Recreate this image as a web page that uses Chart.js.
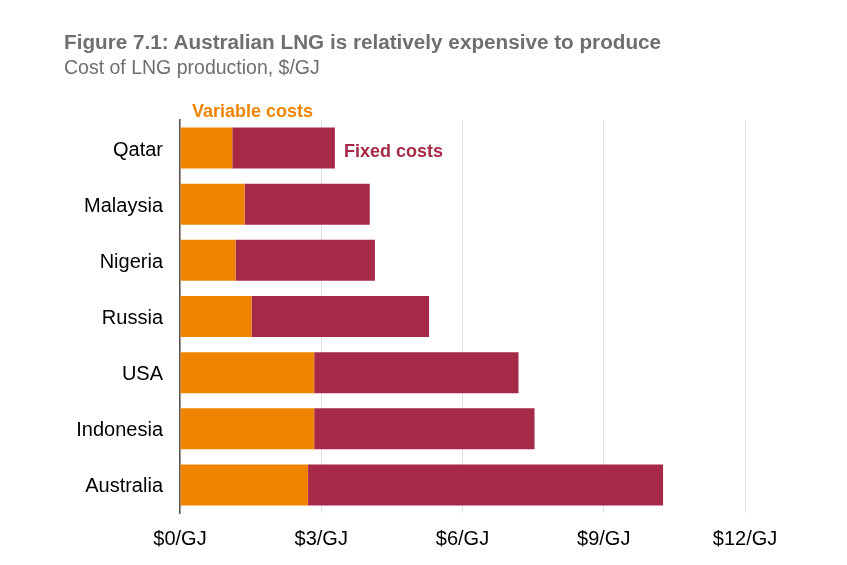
<!DOCTYPE html>
<html>
	<head>
		<meta charset="utf-8">
		<script src="https://cdn.jsdelivr.net/npm/chart.js@4/dist/chart.umd.min.js"></script>
		<title>Cost of LNG production</title>
		<style>
			body { margin: 0; background: #fff; font-family: "Liberation Sans", Arial, sans-serif; }
			#wrap { position: relative; width: 847px; height: 565px; }
			#title { position: absolute; left: 64px; top: 30px; font-size: 20.7px; font-weight: bold; color: #6d6f71; white-space: nowrap; }
			#subtitle { position: absolute; left: 64px; top: 56px; font-size: 19.5px; color: #6d6f71; white-space: nowrap; }
			#myChart { position: absolute; left: 0; top: 0; }
		</style>
	</head>
	<body>
		<div id="wrap">
			<canvas id="myChart" width="847" height="565"></canvas>
			<div id="title">Figure 7.1: Australian LNG is relatively expensive to produce</div>
			<div id="subtitle">Cost of LNG production, $/GJ</div>
		</div>
		<script>
			var countries = ['Qatar', 'Malaysia', 'Nigeria', 'Russia', 'USA', 'Indonesia', 'Australia'];
			var variableCosts = [1.11, 1.37, 1.18, 1.52, 2.85, 2.85, 2.72];
			var fixedCosts = [2.18, 2.66, 2.96, 3.77, 4.34, 4.68, 7.54];
			var xTicks = [0, 3, 6, 9, 12];

			var orange = '#f08400';
			var maroon = '#a62a47';

			// annotation labels next to the first bar
			var labelPlugin = {
				id: 'seriesLabels',
				afterDraw: function (chart) {
					var ctx = chart.ctx;
					var x = chart.scales.x;
					var y = chart.scales.y;
					ctx.save();
					ctx.font = 'bold 18px "Liberation Sans", Arial, sans-serif';
					ctx.textBaseline = 'middle';
					ctx.textAlign = 'left';
					ctx.fillStyle = orange;
					ctx.fillText('Variable costs', chart.chartArea.left + 12, chart.chartArea.top - 8);
					ctx.fillStyle = maroon;
					ctx.fillText('Fixed costs', x.getPixelForValue(variableCosts[0] + fixedCosts[0]) + 9, y.getPixelForValue(0) + 4);
					ctx.restore();
				}
			};

			var chart = new Chart(document.getElementById('myChart'), {
				type: 'bar',
				data: {
					labels: countries,
					datasets: [{
						label: 'Variable costs',
						data: variableCosts,
						backgroundColor: orange,
						borderWidth: 0
					}, {
						label: 'Fixed costs',
						data: fixedCosts,
						backgroundColor: maroon,
						borderWidth: 0
					}]
				},
				options: {
					indexAxis: 'y',
					responsive: false,
					animation: false,
					categoryPercentage: 1,
					barPercentage: 0.73,
					layout: {
						padding: { left: 70, top: 120, right: 102, bottom: 0 }
					},
					plugins: {
						legend: { display: false },
						tooltip: { enabled: false }
					},
					scales: {
						x: {
							stacked: true,
							min: 0,
							max: 12,
							afterBuildTicks: function (scale) {
								scale.ticks = xTicks.map(function (v) { return { value: v }; });
							},
							afterFit: function (scale) { scale.height = 52; },
							grid: { color: '#e0e0e0', lineWidth: 1, drawTicks: false },
							border: { display: false },
							ticks: {
								padding: 14,
								color: '#000',
								maxRotation: 0,
								font: { size: 20, family: '"Liberation Sans", Arial, sans-serif' },
								callback: function (v) { return '$' + v + '/GJ'; }
							}
						},
						y: {
							stacked: true,
							afterFit: function (scale) { scale.width = 110; },
							grid: { display: false, drawTicks: false },
							border: { display: true, color: '#5a524c', width: 1.5 },
							ticks: {
								padding: 17,
								labelOffset: 2,
								color: '#000',
								font: { size: 20, family: '"Liberation Sans", Arial, sans-serif' }
							}
						}
					}
				},
				plugins: [labelPlugin]
			});
		</script>
	</body>
</html>
